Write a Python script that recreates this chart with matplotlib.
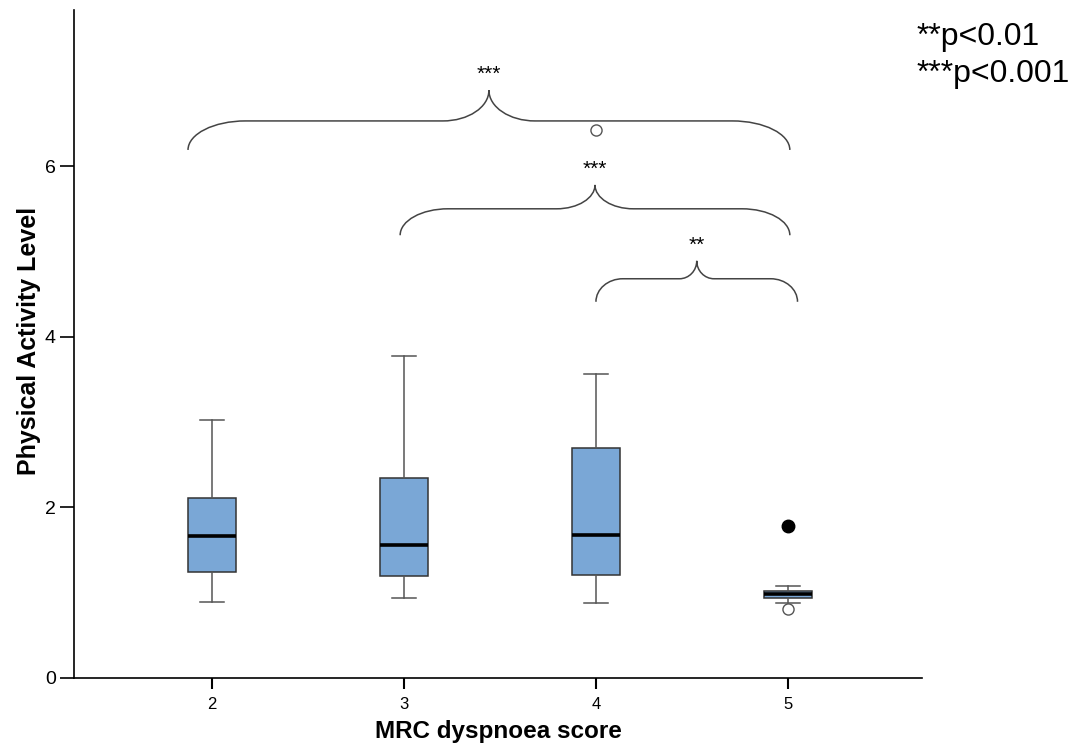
import matplotlib.pyplot as plt
from matplotlib.path import Path
from matplotlib.patches import PathPatch

plt.rcParams['font.family'] = ['Liberation Sans', 'DejaVu Sans']

# MRC dyspnoea score groups and box summaries (physical activity level)
scores = [2, 3, 4, 5]
whisker_low = [0.89, 0.94, 0.88, 0.88]
q1 = [1.24, 1.19, 1.21, 0.94]
medians = [1.66, 1.56, 1.68, 0.98]
q3 = [2.11, 2.35, 2.70, 1.02]
whisker_high = [3.02, 3.77, 3.56, 1.08]
outliers = [[], [], [6.42], [0.81]]
extremes_x = [5]
extremes_y = [1.78]

# significance brackets: (from, to, label)
brackets = [(1.875, 5.01, '***'), (2.98, 5.01, '***'), (4.0, 5.05, '**')]

box_color = '#7AA7D6'


def draw_brace(ax, x0, x1, y_end, y_flat, y_tip, r, r2, label):
    k = 0.5523
    xm = (x0 + x1) / 2
    h = y_flat - y_end
    t = y_tip - y_flat
    verts = [
        (x0, y_end), (x0, y_end + k * h), (x0 + r - k * r, y_flat), (x0 + r, y_flat),
        (xm - r2, y_flat),
        (xm - r2 + k * r2, y_flat), (xm, y_tip - k * t), (xm, y_tip),
        (xm, y_tip - k * t), (xm + r2 - k * r2, y_flat), (xm + r2, y_flat),
        (x1 - r, y_flat),
        (x1 - r + k * r, y_flat), (x1, y_end + k * h), (x1, y_end),
    ]
    codes = [Path.MOVETO, Path.CURVE4, Path.CURVE4, Path.CURVE4,
             Path.LINETO,
             Path.CURVE4, Path.CURVE4, Path.CURVE4,
             Path.CURVE4, Path.CURVE4, Path.CURVE4,
             Path.LINETO,
             Path.CURVE4, Path.CURVE4, Path.CURVE4]
    ax.add_patch(PathPatch(Path(verts, codes), facecolor='none',
                           edgecolor='#444444', lw=1.1))
    ax.text(xm, y_tip + 0.07, label, ha='center', va='bottom', fontsize=15)


fig = plt.figure(figsize=(10.77, 7.49), dpi=100)
ax = fig.add_axes([0.0687, 0.0948, 0.7873, 0.8918])

stats = []
for i in range(len(scores)):
    stats.append({'whislo': whisker_low[i], 'q1': q1[i], 'med': medians[i],
                  'q3': q3[i], 'whishi': whisker_high[i], 'fliers': outliers[i]})

ax.bxp(stats, positions=scores, widths=0.25, capwidths=0.125, patch_artist=True,
       boxprops=dict(facecolor=box_color, edgecolor='#333333', lw=1.1),
       medianprops=dict(color='black', lw=2.6),
       whiskerprops=dict(color='#555555', lw=1.1),
       capprops=dict(color='#555555', lw=1.1),
       flierprops=dict(marker='o', markerfacecolor='white', markeredgecolor='#555555',
                       markersize=8, markeredgewidth=1.0))
ax.plot(extremes_x, extremes_y, 'o', color='black', markersize=9)

draw_brace(ax, brackets[0][0], brackets[0][1], 6.19, 6.53, 6.89, 0.30, 0.24, brackets[0][2])
draw_brace(ax, brackets[1][0], brackets[1][1], 5.19, 5.50, 5.78, 0.25, 0.2, brackets[1][2])
draw_brace(ax, brackets[2][0], brackets[2][1], 4.41, 4.68, 4.89, 0.14, 0.09, brackets[2][2])

ax.set_xlim(1.281, 5.698)
ax.set_ylim(0, 7.83)
ax.set_xticks(scores)
ax.set_xticklabels([str(s) for s in scores])
ax.set_yticks([0, 2, 4, 6])
ax.spines['top'].set_visible(False)
ax.spines['right'].set_visible(False)
ax.spines['left'].set_linewidth(1.2)
ax.spines['bottom'].set_linewidth(1.2)
ax.tick_params(axis='y', direction='out', length=10, width=1.2, labelsize=14, pad=3)
ax.tick_params(axis='x', direction='out', length=8, width=1.5, labelsize=12, pad=6)

ax.set_xlabel('MRC dyspnoea score', fontsize=17.5, fontweight='bold')
ax.set_ylabel('Physical Activity Level', fontsize=18, fontweight='bold')
ax.xaxis.set_label_coords(0.5, -0.063)
ax.yaxis.set_label_coords(-0.039, 0.505)

fig.text(0.851, 0.926, '**p<0.01\n***p<0.001', fontsize=23, ha='left', va='center',
         linespacing=1.3)

fig.savefig('out.png', dpi=100)
